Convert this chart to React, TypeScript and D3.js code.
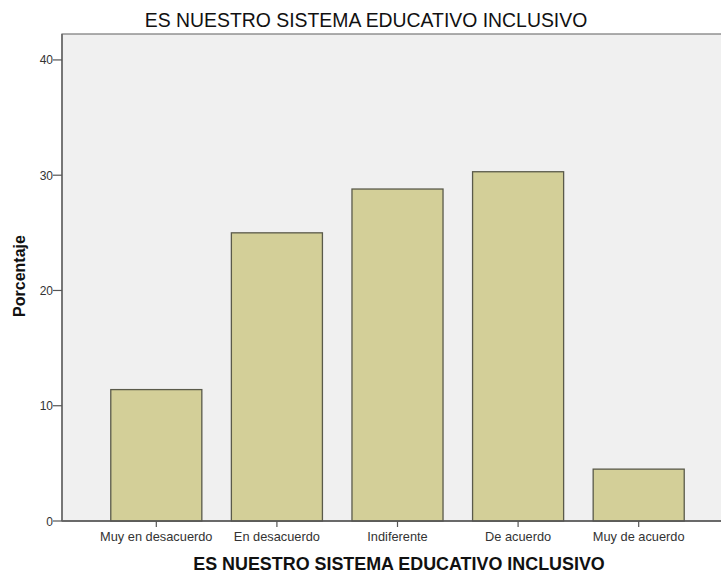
import React from "react";
import * as d3 from "d3";

const categories = ["Muy en desacuerdo", "En desacuerdo", "Indiferente", "De acuerdo", "Muy de acuerdo"];
const values = [11.4, 25.0, 28.8, 30.3, 4.5];
const yTicks = [0, 10, 20, 30, 40];
const title = "ES NUESTRO SISTEMA EDUCATIVO INCLUSIVO";
const xTitle = "ES NUESTRO SISTEMA EDUCATIVO INCLUSIVO";
const yTitle = "Porcentaje";

export default function App() {
  const W = 721, H = 574;
  const left = 62, right = 733, top = 34, bottom = 521;
  const x = d3.scaleBand<string>().domain(categories).range([left, right]).paddingInner(0.245).paddingOuter(0.4045);
  const y = d3.scaleLinear().domain([0, 42.25]).range([bottom, top]);
  const font = "'Liberation Sans', Arial, sans-serif";
  return (
    <svg width={W} height={H} style={{ position: "absolute", left: 0, top: 0, background: "#fff" }} fontFamily={font}>
      <rect x={0} y={0} width={W} height={H} fill="#fff" />
      <text x={366} y={27} textAnchor="middle" fontSize={19.4} fill="#111">{title}</text>
      <rect x={left} y={top} width={right - left} height={bottom - top} fill="#f0f0f0" stroke="#777" strokeWidth={1.2} />
      {categories.map((c, i) => (
        <rect key={c} x={x(c)!} y={y(values[i])} width={x.bandwidth()} height={bottom - y(values[i])}
          fill="#d3cf98" stroke="#5a5a4a" strokeWidth={1.3} />
      ))}
      <line x1={left} x2={W} y1={bottom} y2={bottom} stroke="#555" strokeWidth={1.5} />
      <line x1={left} x2={left} y1={top} y2={bottom} stroke="#666" strokeWidth={1.5} />
      {yTicks.map(t => (
        <g key={t}>
          <line x1={left - 9} x2={left} y1={y(t)} y2={y(t)} stroke="#555" strokeWidth={1.2} />
          <text x={left - 9} y={y(t) + 4.5} textAnchor="end" fontSize={12} fill="#333">{t}</text>
        </g>
      ))}
      {categories.map(c => {
        const cx = x(c)! + x.bandwidth() / 2;
        return (
          <g key={c}>
            <line x1={cx} x2={cx} y1={bottom} y2={bottom + 6} stroke="#555" strokeWidth={1.2} />
            <text x={cx} y={bottom + 20} textAnchor="middle" fontSize={12.8} fill="#333">{c}</text>
          </g>
        );
      })}
      <text x={399} y={570} textAnchor="middle" fontSize={17.9} fontWeight="bold" fill="#111">{xTitle}</text>
      <text transform={`translate(25,276) rotate(-90)`} textAnchor="middle" fontSize={16} fontWeight="bold" fill="#111">{yTitle}</text>
    </svg>
  );
}
